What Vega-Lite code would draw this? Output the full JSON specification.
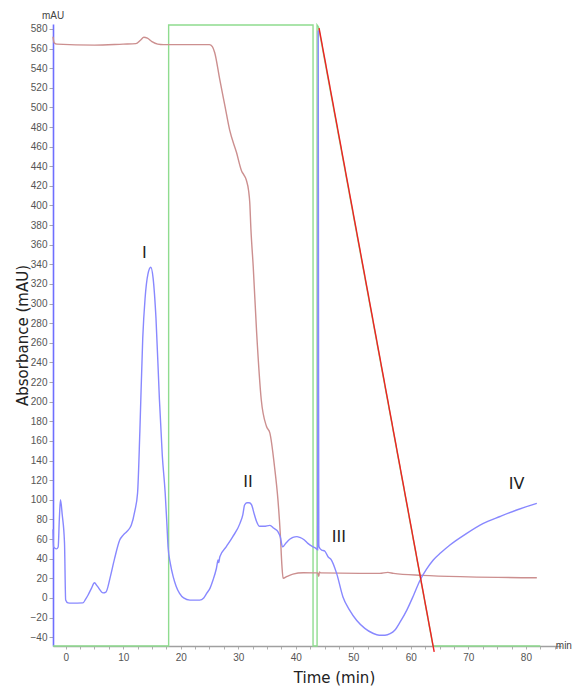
{
  "$schema": "https://vega.github.io/schema/vega-lite/v6.json",
  "autosize": {"type": "none"},
  "padding": {"left": 53, "top": 24, "right": 16, "bottom": 40},
  "width": 508,
  "height": 622,
  "background": "white",
  "config": {"view": {"stroke": null}},
  "datasets": {
    "uv": [
      {"t": -2.2, "v": 70}, {"t": -2.1, "v": 52}, {"t": -1.6, "v": 50}, {"t": -1.3, "v": 52},
      {"t": -1.1, "v": 80}, {"t": -0.9, "v": 100}, {"t": -0.6, "v": 85}, {"t": -0.2, "v": 56},
      {"t": 0, "v": -2}, {"t": 0.4, "v": -5}, {"t": 1.0, "v": -5.3}, {"t": 3.0, "v": -5},
      {"t": 3.5, "v": -1}, {"t": 3.9, "v": 3}, {"t": 4.5, "v": 10}, {"t": 5.0, "v": 15.4},
      {"t": 5.5, "v": 12}, {"t": 6.5, "v": 5.2}, {"t": 7.0, "v": 6}, {"t": 7.7, "v": 20},
      {"t": 8.5, "v": 40}, {"t": 9.4, "v": 59}, {"t": 10.0, "v": 64}, {"t": 10.6, "v": 67.5},
      {"t": 11.4, "v": 74}, {"t": 12.0, "v": 88}, {"t": 12.5, "v": 107}, {"t": 12.9, "v": 170},
      {"t": 13.4, "v": 265}, {"t": 13.8, "v": 305}, {"t": 14.3, "v": 330}, {"t": 14.8, "v": 337},
      {"t": 15.2, "v": 326}, {"t": 15.7, "v": 285}, {"t": 16.3, "v": 202}, {"t": 16.8, "v": 145},
      {"t": 17.3, "v": 107}, {"t": 17.6, "v": 75}, {"t": 17.8, "v": 52}, {"t": 18.2, "v": 35},
      {"t": 18.7, "v": 21.5}, {"t": 19.2, "v": 12}, {"t": 19.8, "v": 4.6}, {"t": 20.5, "v": 0},
      {"t": 21.6, "v": -2.2}, {"t": 23.3, "v": -2.2}, {"t": 24.0, "v": 0}, {"t": 24.5, "v": 4.6},
      {"t": 25.1, "v": 10}, {"t": 25.6, "v": 18}, {"t": 26.2, "v": 30}, {"t": 26.5, "v": 38.6},
      {"t": 26.6, "v": 36}, {"t": 26.8, "v": 42}, {"t": 27.9, "v": 52}, {"t": 29.0, "v": 62},
      {"t": 30.3, "v": 76}, {"t": 30.8, "v": 85}, {"t": 31.1, "v": 94.7}, {"t": 31.5, "v": 97},
      {"t": 31.9, "v": 97}, {"t": 32.3, "v": 95}, {"t": 32.8, "v": 85}, {"t": 33.2, "v": 77.7},
      {"t": 33.7, "v": 73}, {"t": 34.5, "v": 73}, {"t": 35.5, "v": 74}, {"t": 36.2, "v": 71},
      {"t": 36.9, "v": 67.5}, {"t": 37.3, "v": 62.4}, {"t": 37.7, "v": 52}, {"t": 38.3, "v": 56},
      {"t": 39.0, "v": 60}, {"t": 39.5, "v": 61.7}, {"t": 40.2, "v": 62.5}, {"t": 40.7, "v": 61.7},
      {"t": 41.5, "v": 59}, {"t": 42.1, "v": 55.6}, {"t": 43.0, "v": 52}, {"t": 43.5, "v": 50.5},
      {"t": 43.8, "v": 49}, {"t": 43.85, "v": 300}, {"t": 43.9, "v": 578}, {"t": 43.95, "v": 300},
      {"t": 44.0, "v": 55}, {"t": 44.05, "v": 52}, {"t": 44.5, "v": 48.8}, {"t": 45.0, "v": 48},
      {"t": 45.6, "v": 42}, {"t": 46.2, "v": 38.6}, {"t": 47.1, "v": 25}, {"t": 48.2, "v": 1},
      {"t": 49.3, "v": -12}, {"t": 50.6, "v": -23}, {"t": 52.0, "v": -31}, {"t": 53.4, "v": -36},
      {"t": 54.5, "v": -38}, {"t": 55.5, "v": -38}, {"t": 56.4, "v": -36.5}, {"t": 57.2, "v": -33},
      {"t": 58.2, "v": -24}, {"t": 59.3, "v": -12.4}, {"t": 60.5, "v": 3}, {"t": 61.6, "v": 18},
      {"t": 62.7, "v": 29}, {"t": 63.9, "v": 38.6}, {"t": 65.2, "v": 46}, {"t": 66.8, "v": 54},
      {"t": 69.5, "v": 65}, {"t": 72.6, "v": 76}, {"t": 75.5, "v": 83}, {"t": 78.4, "v": 89.6},
      {"t": 81.9, "v": 96.4}
    ],
    "cond": [
      {"t": -2.2, "v": 572}, {"t": -2.0, "v": 566}, {"t": -1.5, "v": 564.5}, {"t": 5, "v": 563.5},
      {"t": 10, "v": 564.5}, {"t": 12.2, "v": 565}, {"t": 13.0, "v": 568.5}, {"t": 13.6, "v": 571.5},
      {"t": 14.2, "v": 570.5}, {"t": 15.0, "v": 567}, {"t": 16.0, "v": 564.5}, {"t": 17.0, "v": 564},
      {"t": 25.0, "v": 564}, {"t": 25.5, "v": 562}, {"t": 25.9, "v": 556}, {"t": 26.8, "v": 528},
      {"t": 27.7, "v": 501}, {"t": 28.5, "v": 477}, {"t": 29.7, "v": 454}, {"t": 30.6, "v": 435},
      {"t": 31.0, "v": 431}, {"t": 31.4, "v": 426}, {"t": 31.8, "v": 415}, {"t": 32.0, "v": 403},
      {"t": 32.2, "v": 376}, {"t": 32.6, "v": 338}, {"t": 33.2, "v": 270}, {"t": 34.0, "v": 202},
      {"t": 34.9, "v": 175}, {"t": 35.5, "v": 168}, {"t": 36.3, "v": 134}, {"t": 36.9, "v": 100},
      {"t": 37.3, "v": 66}, {"t": 37.6, "v": 32}, {"t": 37.8, "v": 20}, {"t": 38.5, "v": 22},
      {"t": 39.5, "v": 24.3}, {"t": 41.3, "v": 25.6}, {"t": 43.8, "v": 25.5}, {"t": 44.0, "v": 22},
      {"t": 44.1, "v": 26.6}, {"t": 44.3, "v": 25.5}, {"t": 51.1, "v": 25}, {"t": 54.6, "v": 25},
      {"t": 56.0, "v": 26}, {"t": 57.0, "v": 25}, {"t": 62, "v": 23}, {"t": 70, "v": 21.5},
      {"t": 81.9, "v": 20.5}
    ],
    "grad": [
      {"i": 1, "t": -2.2, "v": -49}, {"i": 2, "t": 17.9, "v": -49}, {"i": 3, "t": 17.9, "v": 584},
      {"i": 4, "t": 43.0, "v": 584}, {"i": 5, "t": 43.0, "v": -49}, {"i": 6, "t": 43.7, "v": -49},
      {"i": 7, "t": 43.7, "v": 584}, {"i": 8, "t": 43.95, "v": 582}, {"i": 9, "t": 63.85, "v": -49},
      {"i": 10, "t": 82.5, "v": -49}
    ],
    "conc": [
      {"t": 44.05, "v": 580.7}, {"t": 64.06, "v": -55}
    ],
    "peaks": [
      {"lab": "I", "t": 13.7, "v": 352}, {"lab": "II", "t": 31.7, "v": 118},
      {"lab": "III", "t": 47.5, "v": 62}, {"lab": "IV", "t": 78.4, "v": 116}
    ],
    "units": [
      {"lab": "mAU", "t": -2.2, "v": 592.7, "al": "center"},
      {"lab": "min", "t": 86.6, "v": -49, "al": "left"}
    ]
  },
  "encoding": {
    "x": {
      "field": "t", "type": "quantitative",
      "scale": {"domain": [-2.2, 86.1], "nice": false, "zero": false},
      "axis": {
        "title": "Time (min)",
        "values": [0, 2.5, 5, 7.5, 10, 12.5, 15, 17.5, 20, 22.5, 25, 27.5, 30, 32.5, 35, 37.5, 40, 42.5, 45, 47.5, 50, 52.5, 55, 57.5, 60, 62.5, 65, 67.5, 70, 72.5, 75, 77.5, 80, 82.5, 85],
        "labelExpr": "datum.value % 10 == 0 ? datum.label : ''",
        "grid": false,
        "domainColor": "#a0a0a0", "domainWidth": 1.6,
        "tickColor": "#b0b0b0", "tickSize": 3,
        "labelFont": "Liberation Sans", "labelFontSize": 10, "labelColor": "#555555", "labelPadding": 3,
        "titleFont": "DejaVu Sans", "titleFontSize": 15, "titleFontWeight": "normal", "titleColor": "#222222",
        "titleX": 281, "titleY": 36, "titleBaseline": "alphabetic", "titleAlign": "center", "titleAnchor": null
      }
    },
    "y": {
      "field": "v", "type": "quantitative",
      "scale": {"domain": [-49, 585], "nice": false, "zero": false},
      "axis": {
        "title": "Absorbance (mAU)",
        "values": [-40, -20, 0, 20, 40, 60, 80, 100, 120, 140, 160, 180, 200, 220, 240, 260, 280, 300, 320, 340, 360, 380, 400, 420, 440, 460, 480, 500, 520, 540, 560, 580],
        "grid": false,
        "domainColor": "#6f6fff", "domainWidth": 1.6,
        "tickColor": "#aaaaaa", "tickSize": 4,
        "labelFont": "Liberation Sans", "labelFontSize": 10, "labelColor": "#555555", "labelPadding": 2,
        "titleFont": "DejaVu Sans", "titleFontSize": 15, "titleFontWeight": "normal", "titleColor": "#222222",
        "titleX": -31, "titleY": 311, "titleAngle": 270, "titleAlign": "center", "titleBaseline": "middle", "titleAnchor": null
      }
    }
  },
  "layer": [
    {
      "data": {"name": "grad"},
      "mark": {"type": "line", "color": "#8fdc8f", "strokeWidth": 1.4},
      "encoding": {"order": {"field": "i", "type": "quantitative"}}
    },
    {
      "data": {"name": "cond"},
      "mark": {"type": "line", "color": "#cc8f8f", "strokeWidth": 1.4, "interpolate": "monotone"}
    },
    {
      "data": {"name": "uv"},
      "mark": {"type": "line", "color": "#8888ff", "strokeWidth": 1.4, "interpolate": "monotone"}
    },
    {
      "data": {"name": "conc"},
      "mark": {"type": "line", "color": "#ee2222", "strokeWidth": 1.4}
    },
    {
      "data": {"name": "peaks"},
      "mark": {"type": "text", "font": "DejaVu Sans", "fontSize": 16, "color": "#222222", "baseline": "middle", "align": "center"},
      "encoding": {"text": {"field": "lab"}}
    },
    {
      "data": {"name": "units"},
      "mark": {"type": "text", "font": "Liberation Sans", "fontSize": 10, "color": "#444444", "baseline": "middle"},
      "encoding": {"text": {"field": "lab"}, "align": {"field": "al", "type": "nominal", "scale": null}}
    }
  ]
}
